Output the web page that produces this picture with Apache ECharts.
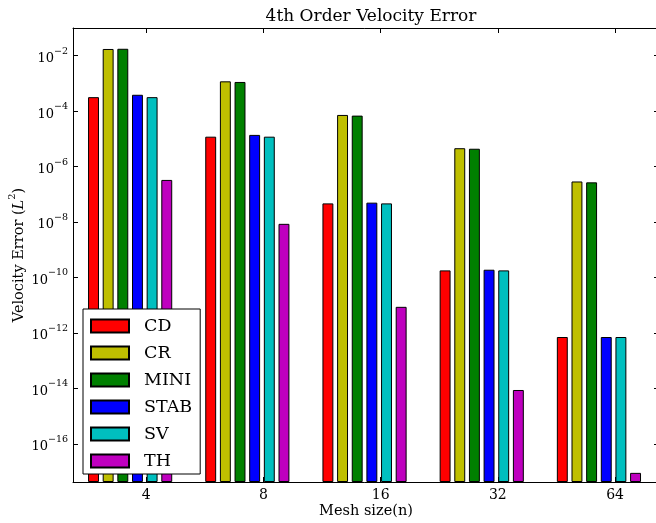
<!DOCTYPE html>
<html>
<head>
<meta charset="utf-8">
<script src="https://cdn.jsdelivr.net/npm/echarts@6/dist/echarts.min.js"></script>
<style>
  html, body { margin: 0; padding: 0; background: #fff; }
  #chart { width: 656px; height: 523px; }
</style>
</head>
<body>
<div id="chart"></div>
<script>
// Mesh sizes along the x axis
const categories = ['4', '8', '16', '32', '64'];
// Discretisation methods (one bar series each)
const methods = ['CD', 'CR', 'MINI', 'STAB', 'SV', 'TH'];
const methodColors = ['#ff0000', '#bfbf00', '#008000', '#0000ff', '#00bfbf', '#bf00bf'];

// L2 velocity error per mesh size
const cdErr   = [3.2e-4, 1.2e-5, 4.7e-8, 1.8e-10, 7.1e-13];
const crErr   = [1.75e-2, 1.19e-3, 7.3e-5, 4.6e-6, 2.9e-7];
const miniErr = [1.78e-2, 1.13e-3, 6.9e-5, 4.4e-6, 2.7e-7];
const stabErr = [3.9e-4, 1.39e-5, 5.0e-8, 1.9e-10, 7.1e-13];
const svErr   = [3.2e-4, 1.2e-5, 4.7e-8, 1.8e-10, 7.1e-13];
const thErr   = [3.3e-7, 8.6e-9, 8.7e-12, 8.7e-15, 8.9e-18];

// Labelled decades on the log axis
const yTickExponents = [-16, -14, -12, -10, -8, -6, -4, -2];

const errors = [cdErr, crErr, miniErr, stabErr, svErr, thErr];

const FONT = 'DejaVu Serif';
const slot = 0.125;        // spacing between bars in a group (axis units)
const barFrac = 0.1;       // drawn bar width (axis units)
const xMin = -slot, xMax = categories.length - 1 + 7 * slot;
const yMin = Math.pow(10, -17.38), yMax = 0.1;

const grid = { left: 73, top: 28, width: 586, height: 454, outerBoundsMode: 'none' };
const barPx = barFrac * grid.width / (xMax - xMin) - 0.8;

const xTickVals = categories.map((c, i) => i + 4 * slot);
const yTickVals = yTickExponents.map(e => Math.pow(10, e));

const chart = echarts.init(document.getElementById('chart'), null, { renderer: 'canvas' });

const series = methods.map((name, s) => ({
  name: name,
  type: 'bar',
  xAxisIndex: 0,
  yAxisIndex: 0,
  barWidth: barPx,
  barGap: '-100%',
  clip: true,
  itemStyle: { color: methodColors[s], borderColor: '#000', borderWidth: 1 },
  emphasis: { disabled: true },
  data: errors[s].map((v, g) => [g + s * slot + barFrac / 2, v])
}));

function expLabel(v) {
  const e = Math.round(Math.log10(v));
  return '{b|10}{s|\u2212' + Math.abs(e) + '}';
}

const xBase = {
  type: 'value', min: xMin, max: xMax,
  splitLine: { show: false },
  axisLine: { onZero: false, lineStyle: { color: '#000', width: 1 } },
  axisTick: { inside: true, length: 5, customValues: xTickVals, lineStyle: { color: '#000' } }
};
const yBase = {
  type: 'log', logBase: 10, min: yMin, max: yMax, startValue: yMin,
  splitLine: { show: false },
  axisLine: { show: true, onZero: false, lineStyle: { color: '#000', width: 1 } },
  axisTick: { inside: true, length: 5, customValues: yTickVals, lineStyle: { color: '#000' } }
};

chart.setOption({
  animation: false,
  backgroundColor: '#fff',
  title: {
    text: '4th Order Velocity Error',
    left: grid.left + grid.width / 2,
    textAlign: 'center',
    top: 3,
    textStyle: { fontFamily: FONT, fontSize: 17, fontWeight: 'normal', color: '#000' }
  },
  legend: {
    orient: 'vertical',
    left: 83, top: 309,
    padding: [8, 8, 4, 7],
    itemWidth: 38, itemHeight: 13, itemGap: 9,
    backgroundColor: '#fff', borderColor: '#000', borderWidth: 1,
    icon: 'rect',
    textStyle: { fontFamily: FONT, fontSize: 17.5, color: '#000', padding: [0, 0, 0, 10] },
    data: methods
  },
  grid: grid,
  xAxis: [
    Object.assign({}, xBase, {
      position: 'bottom',
      name: 'Mesh size(n)', nameLocation: 'middle', nameGap: 21.5, nameMoveOverlap: false,
      nameTextStyle: { fontFamily: FONT, fontSize: 14.5, color: '#000' },
      axisLabel: {
        customValues: xTickVals, margin: 6,
        fontFamily: FONT, fontSize: 14, color: '#000',
        formatter: v => categories[Math.floor(v)]
      }
    }),
    Object.assign({}, xBase, { position: 'top', axisLabel: { show: false } })
  ],
  yAxis: [
    Object.assign({}, yBase, {
      position: 'left',
      name: '{t|Velocity Error (}{i|L}{s|2}{t|)}', nameLocation: 'middle', nameGap: 46, nameMoveOverlap: false,
      nameTextStyle: {
        color: '#000',
        rich: {
          t: { fontFamily: FONT, fontSize: 14.5, color: '#000', lineHeight: 20, verticalAlign: 'bottom' },
          i: { fontFamily: FONT, fontSize: 14.5, fontStyle: 'italic', color: '#000', lineHeight: 20, verticalAlign: 'bottom' },
          s: { fontFamily: FONT, fontSize: 10, color: '#000', lineHeight: 12, verticalAlign: 'top' }
        }
      },
      axisLabel: {
        customValues: yTickVals, margin: 5,
        formatter: expLabel,
        rich: {
          b: { fontFamily: FONT, fontSize: 13, color: '#000', lineHeight: 19, verticalAlign: 'bottom' },
          s: { fontFamily: FONT, fontSize: 9.5, color: '#000', lineHeight: 11, verticalAlign: 'top' }
        }
      }
    }),
    Object.assign({}, yBase, { position: 'right', axisLabel: { show: false } })
  ],
  series: series
});
</script>
</body>
</html>
